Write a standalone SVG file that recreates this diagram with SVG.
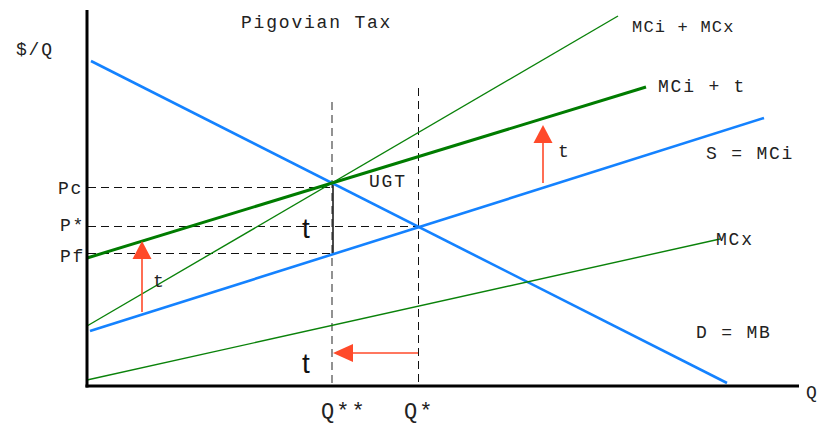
<svg xmlns="http://www.w3.org/2000/svg" width="824" height="425" viewBox="0 0 824 425">
<style>
.lbl{font-family:"Liberation Mono","DejaVu Sans Mono",monospace;font-size:18px;letter-spacing:1.8px;fill:#222}
.big{font-family:"Liberation Sans",Arial,sans-serif;font-size:28px;fill:#111}
.q{font-family:"Liberation Mono","DejaVu Sans Mono",monospace;font-size:22px;letter-spacing:2px;fill:#222}
.blue{stroke:#1482ff;stroke-width:2.6;fill:none}
.gthick{stroke:#007c00;stroke-width:3;fill:none}
.gthin{stroke:#0a820a;stroke-width:1.4;fill:none}
.dash{stroke:#111;stroke-width:1;stroke-dasharray:8 5;fill:none}
.dashg{stroke:#777;stroke-width:1.6;stroke-dasharray:8 5;fill:none}
.arr{stroke:#ff4a2a;stroke-width:1.6;fill:none}
.head{fill:#ff4a2a}
</style>
<rect width="824" height="425" fill="#fff"/>
<g id="guides">
<line class="dash" x1="88" y1="187.5" x2="331" y2="187.5"/>
<line class="dash" x1="88" y1="226.5" x2="418" y2="226.5"/>
<line class="dash" x1="88" y1="253.5" x2="332" y2="253.5"/>
<line class="dashg" x1="332" y1="102" x2="332" y2="386"/>
<line class="dash" x1="418.5" y1="88" x2="418.5" y2="386"/>
<line x1="333" y1="183" x2="333" y2="254" stroke="#111" stroke-width="1.5"/>
</g>
<g id="connectors">
<line id="demand" class="blue" x1="91" y1="61" x2="727" y2="383"/>
<line id="supply" class="blue" x1="90" y1="331" x2="764" y2="118"/>
<line id="mci_t" class="gthick" x1="87" y1="258" x2="646" y2="87"/>
<line id="mci_mcx" class="gthin" x1="87" y1="326" x2="618" y2="16"/>
<line id="mcx" class="gthin" x1="87" y1="380" x2="720" y2="239"/>
<g id="arrow1"><line class="arr" x1="142" y1="312" x2="142" y2="256"/><polygon class="head" points="142,241 151.5,259 132.5,259"/></g>
<g id="arrow2"><line class="arr" x1="543" y1="183" x2="543" y2="140"/><polygon class="head" points="543,125 552.5,143 533.5,143"/></g>
<g id="arrow3"><line class="arr" x1="418" y1="353" x2="350" y2="353"/><polygon class="head" points="333,353 353,344 353,362"/></g>
</g>
<g id="axes">
<line x1="87" y1="10" x2="87" y2="387.5" stroke="#000" stroke-width="3"/>
<line x1="85.5" y1="386" x2="799" y2="386" stroke="#000" stroke-width="3"/>
</g>
<g id="labels">
<text class="lbl" x="241" y="28">Pigovian Tax</text>
<text class="lbl" x="16" y="55">$/Q</text>
<text class="lbl" x="632" y="32" style="font-size:17px;letter-spacing:1.2px">MCi + MCx</text>
<text class="lbl" x="658" y="92">MCi + t</text>
<text class="lbl" x="706" y="159">S = MCi</text>
<text class="lbl" x="369" y="187">UGT</text>
<text class="lbl" x="558" y="157">t</text>
<text class="lbl" x="58" y="194">Pc</text>
<text class="lbl" x="60" y="231">P*</text>
<text class="lbl" x="60" y="262">Pf</text>
<text class="lbl" x="153" y="287">t</text>
<text class="lbl" x="716" y="245">MCx</text>
<text class="lbl" x="696" y="338">D = MB</text>
<text class="lbl" x="806" y="398">Q</text>
<text class="big" x="302" y="238">t</text>
<text class="big" x="302" y="373">t</text>
<text class="q" x="321" y="418">Q**</text>
<text class="q" x="404" y="418">Q*</text>
</g>
</svg>
